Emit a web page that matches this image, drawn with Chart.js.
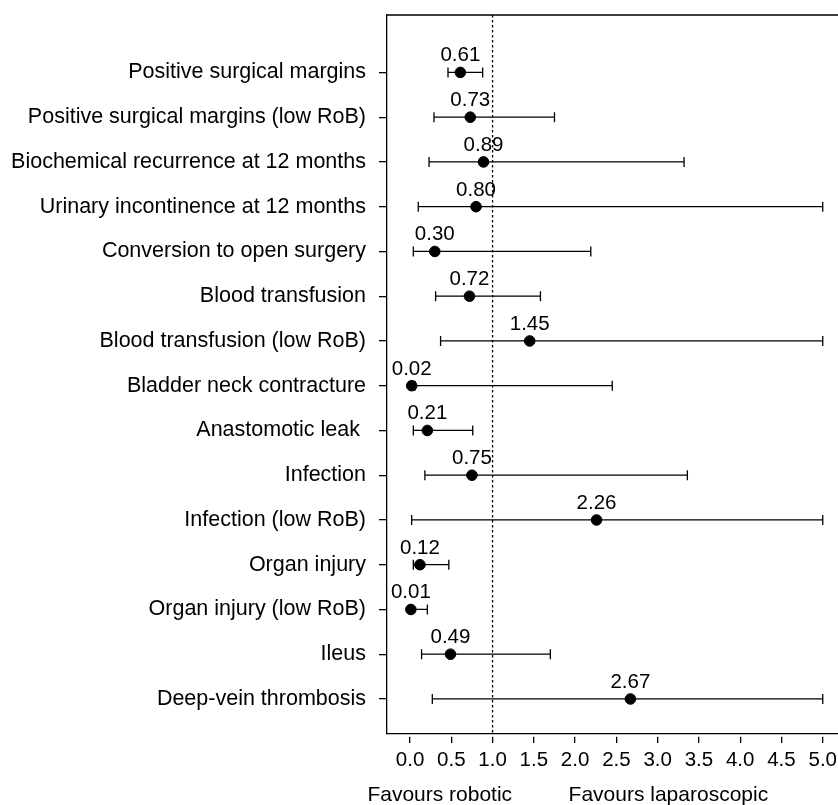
<!DOCTYPE html>
<html>
<head>
<meta charset="utf-8">
<script src="https://cdn.jsdelivr.net/npm/chart.js@4.4.0/dist/chart.umd.min.js"></script>
<style>
  html, body { margin: 0; padding: 0; background: #fff; }
  #wrap { width: 838px; height: 805px; position: relative; }
</style>
</head>
<body>
<div id="wrap"><canvas id="forest"></canvas></div>
<script>
const outcomes = [
    'Positive surgical margins',
    'Positive surgical margins (low RoB)',
    'Biochemical recurrence at 12 months',
    'Urinary incontinence at 12 months',
    'Conversion to open surgery',
    'Blood transfusion',
    'Blood transfusion (low RoB)',
    'Bladder neck contracture',
    'Anastomotic leak ',
    'Infection',
    'Infection (low RoB)',
    'Organ injury',
    'Organ injury (low RoB)',
    'Ileus',
    'Deep-vein thrombosis'
];
const estimates = [0.61, 0.73, 0.89, 0.80, 0.30, 0.72, 1.45, 0.02, 0.21, 0.75, 2.26, 0.12, 0.01, 0.49, 2.67];
const lowerCI = [0.46, 0.29, 0.23, 0.10, 0.04, 0.31, 0.37, 0.06, 0.04, 0.18, 0.02, 0.04, 0.00, 0.14, 0.27];
const upperCI = [0.88, 1.75, 3.32, 5.00, 2.19, 1.58, 5.00, 2.45, 0.76, 3.36, 5.00, 0.47, 0.21, 1.70, 5.00];
const xTicks = [0, 0.5, 1, 1.5, 2, 2.5, 3, 3.5, 4, 4.5, 5];
const nullEffect = 1;
const footerLabels = ['Favours robotic', 'Favours laparoscopic'];

const rows = outcomes.map((_, i) => i + 1);
const fontFamily = "'Liberation Sans', Arial, Helvetica, sans-serif";

// chart.js pads the scales for the end labels, we don't want that here
function noPadding(s) {
    s.paddingTop = 0;
    s.paddingBottom = 0;
    s.paddingLeft = 0;
    s.paddingRight = 0;
}

// whiskers, caps and the dotted line at 1
const forestPlugin = {
    id: 'forest',
    beforeDatasetsDraw(chart) {
        const { ctx, chartArea, scales: { x, y } } = chart;
        ctx.save();
        ctx.strokeStyle = '#000';
        ctx.lineWidth = 1.3;

        const xr = x.getPixelForValue(nullEffect);
        ctx.setLineDash([2.5, 2.5]);
        ctx.beginPath();
        ctx.moveTo(xr, chartArea.top);
        ctx.lineTo(xr, chartArea.bottom);
        ctx.stroke();
        ctx.setLineDash([]);

        rows.forEach((r, i) => {
            const py = y.getPixelForValue(r);
            const x1 = x.getPixelForValue(lowerCI[i]);
            const x2 = x.getPixelForValue(upperCI[i]);
            ctx.beginPath();
            ctx.moveTo(x1, py);
            ctx.lineTo(x2, py);
            ctx.moveTo(x1, py - 5);
            ctx.lineTo(x1, py + 5);
            ctx.moveTo(x2, py - 5);
            ctx.lineTo(x2, py + 5);
            ctx.stroke();
        });
        ctx.restore();
    },
    afterDatasetsDraw(chart) {
        const { ctx, scales: { x, y } } = chart;
        ctx.save();
        ctx.fillStyle = '#000';
        ctx.font = '20.5px ' + fontFamily;
        ctx.textAlign = 'center';
        ctx.textBaseline = 'alphabetic';
        rows.forEach((r, i) => {
            ctx.fillText(estimates[i].toFixed(2), x.getPixelForValue(estimates[i]), y.getPixelForValue(r) - 11);
        });
        ctx.restore();
    },
    afterDraw(chart, args, opts) {
        const { ctx, chartArea, scales: { x } } = chart;
        ctx.save();
        // top of the box
        ctx.strokeStyle = '#000';
        ctx.lineWidth = 1.3;
        ctx.beginPath();
        ctx.moveTo(chartArea.left, chartArea.top);
        ctx.lineTo(chartArea.right, chartArea.top);
        ctx.stroke();

        ctx.fillStyle = '#000';
        ctx.font = '21px ' + fontFamily;
        ctx.textAlign = 'center';
        ctx.textBaseline = 'alphabetic';
        footerLabels.forEach((t, i) => {
            ctx.fillText(t, x.getPixelForValue(opts.at[i]), chart.height - 4);
        });
        ctx.restore();
    }
};

new Chart(document.getElementById('forest').getContext('2d'), {
    type: 'scatter',
    data: {
        datasets: [{
            data: rows.map((r, i) => ({ x: estimates[i], y: r })),
            backgroundColor: '#000',
            borderColor: '#000',
            pointRadius: 5.3,
            pointHoverRadius: 5.3,
        }]
    },
    options: {
        responsive: true,
        maintainAspectRatio: false,
        animation: false,
        layout: { autoPadding: false, padding: { top: 15, right: 0, left: 0, bottom: 0 } },
        plugins: {
            legend: { display: false },
            tooltip: { enabled: false },
            forest: { at: [0.36, 3.13] }
        },
        scales: {
            x: {
                type: 'linear',
                min: -0.279,
                max: 5.185,
                afterBuildTicks: s => { s.ticks = xTicks.map(v => ({ value: v })); },
                afterFit: s => { s.height = 71; noPadding(s); },
                ticks: {
                    callback: v => Number(v).toFixed(1),
                    color: '#000',
                    font: { family: fontFamily, size: 20.5 },
                    padding: 5,
                    autoSkip: false,
                    maxRotation: 0,
                },
                grid: {
                    drawOnChartArea: false,
                    drawTicks: true,
                    tickLength: 9,
                    color: '#000',
                    lineWidth: 1.3,
                    tickBorderDash: [0, 2.5, 7, 30],
                },
                border: { display: true, color: '#000', width: 1.3 },
            },
            y: {
                type: 'linear',
                reverse: true,
                min: -0.283,
                max: 15.783,
                afterBuildTicks: s => { s.ticks = rows.map(v => ({ value: v })); },
                afterFit: s => { s.width = 387; noPadding(s); },
                ticks: {
                    callback: (v, i) => outcomes[i],
                    color: '#000',
                    font: { family: fontFamily, size: 21.5 },
                    padding: 13,
                    autoSkip: false,
                },
                grid: {
                    drawOnChartArea: false,
                    drawTicks: true,
                    tickLength: 8,
                    color: '#000',
                    lineWidth: 1.3,
                },
                border: { display: true, color: '#000', width: 1.3 },
            }
        }
    },
    plugins: [forestPlugin]
});
</script>
</body>
</html>
